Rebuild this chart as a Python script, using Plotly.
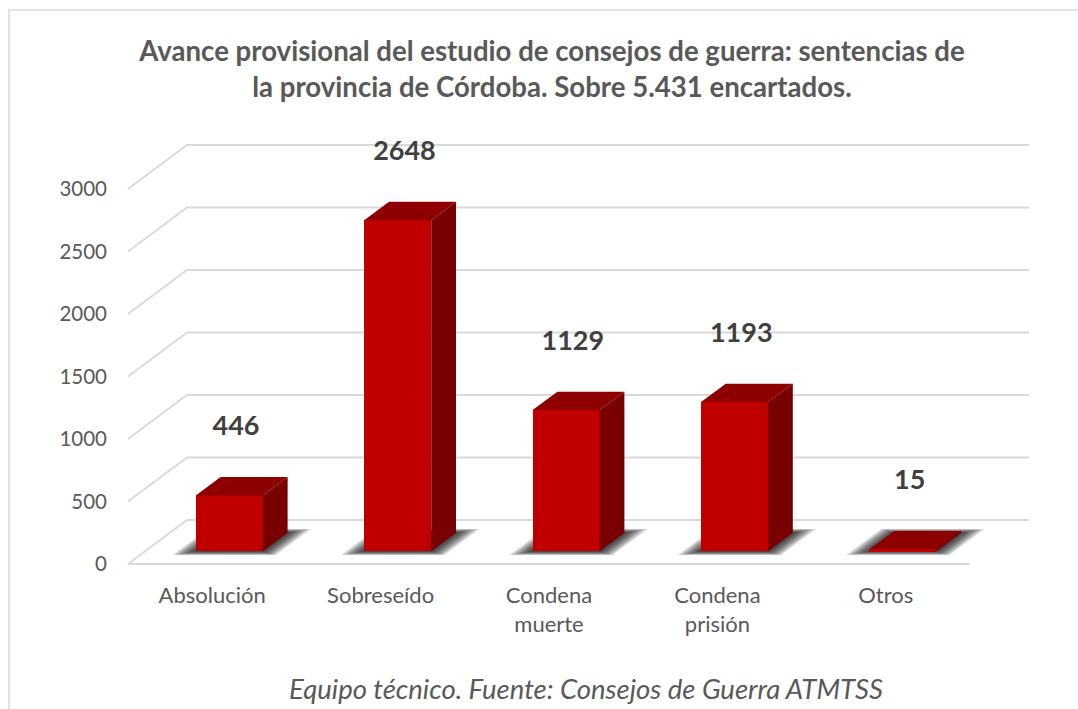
import plotly.graph_objects as go

# ---------------- data ----------------
categories = ["Absolución", "Sobreseído", "Condena<br>muerte", "Condena<br>prisión", "Otros"]
values = [446, 2648, 1129, 1193, 15]
y_ticks = [0, 500, 1000, 1500, 2000, 2500, 3000]
title_text = ("Avance provisional del estudio de consejos de guerra: sentencias de<br>"
              "la provincia de Córdoba. Sobre 5.431 encartados.")
source_text = "Equipo técnico. Fuente: Consejos de Guerra ATMTSS"

# ---------------- geometry (layout constants) ----------------
W, H = 1078, 709
PX_PER_CAT = 168.4     # px per category on the front plane
PX_PER_VAL = 0.125     # px per value unit
X0_PX = 128            # pixel x of front-left edge (x = -0.5)
Y0_PX = 564            # pixel y of value 0 on front plane
DEPTH_DX_PX = 59
DEPTH_DY_PX = 44
DX = DEPTH_DX_PX / PX_PER_CAT
DV = DEPTH_DY_PX / PX_PER_VAL

plot_left, plot_right, plot_top, plot_bottom = 125, 1034, 139, 569
x_range = [-0.5 - (X0_PX - plot_left) / PX_PER_CAT, -0.5 + (plot_right - X0_PX) / PX_PER_CAT]
y_range = [-(plot_bottom - Y0_PX) / PX_PER_VAL, (Y0_PX - plot_top) / PX_PER_VAL]


def xp(px):
    return (px - plot_left) / (plot_right - plot_left)


def yp(py):
    return (plot_bottom - py) / (plot_bottom - plot_top)


def P(x, v, d):
    """project (category x, value v, depth fraction d) onto the chart's 2D axes"""
    return x + d * DX, v + d * DV


D1, D2 = 0.29, 0.71      # bar front/back depth
HW = 0.199               # half bar width (category units)
n = len(categories)
xl, xr = -0.5, n - 0.5

GRID = "#d9d9d9"
FRONT = "#C00000"
TOP = "#8E0000"
SIDE = "#780000"
TXT = "#595959"

fig = go.Figure()

# ---- back wall gridlines + floor ----
gx, gy = [], []
for v in y_ticks:
    for pt in (P(xl, v, 0), P(xl, v, 1), P(xr, v, 1)):
        gx.append(pt[0]); gy.append(pt[1])
    gx.append(None); gy.append(None)
for pt in (P(xl, 0, 0), P(xr, 0, 0)):
    gx.append(pt[0]); gy.append(pt[1])
fig.add_trace(go.Scatter(x=gx, y=gy, mode="lines", line=dict(color=GRID, width=1.8),
                         hoverinfo="skip", showlegend=False, zorder=-3))

# ---- soft floor shadows ----
NL = 8
for i in range(n):
    for k in range(NL, 0, -1):
        ex = 0.0135 * k
        ed = 0.011 * k
        pts = [P(i - HW - ex, 0, D1 - ed), P(i + HW + ex, 0, D1 - ed),
               P(i + HW + ex, 0, D2 + ed), P(i - HW - ex, 0, D2 + ed)]
        fig.add_trace(go.Scatter(x=[p[0] for p in pts] + [pts[0][0]],
                                 y=[p[1] for p in pts] + [pts[0][1]],
                                 mode="lines", fill="toself", line=dict(width=0),
                                 fillcolor="rgba(0,0,0,0.14)", hoverinfo="skip",
                                 showlegend=False, zorder=-2))

# ---- bar front faces ----
fig.add_trace(go.Bar(x=[i + D1 * DX for i in range(n)], y=values, base=D1 * DV,
                     width=2 * HW, marker=dict(color=FRONT, line=dict(width=0)),
                     hovertext=[c.replace("<br>", " ") for c in categories],
                     hoverinfo="text+y", showlegend=False, zorder=0))

# ---- top and side faces ----
for i, v in enumerate(values):
    top = [P(i - HW, v, D1), P(i + HW, v, D1), P(i + HW, v, D2), P(i - HW, v, D2), P(i - HW, v, D1)]
    fig.add_trace(go.Scatter(x=[p[0] for p in top], y=[p[1] for p in top], mode="lines",
                             fill="toself", fillcolor=TOP, line=dict(width=0, color=TOP),
                             hoverinfo="skip", showlegend=False, zorder=1))
    side = [P(i + HW, 0, D1), P(i + HW, v, D1), P(i + HW, v, D2), P(i + HW, 0, D2), P(i + HW, 0, D1)]
    fig.add_trace(go.Scatter(x=[p[0] for p in side], y=[p[1] for p in side], mode="lines",
                             fill="toself", fillcolor=SIDE, line=dict(width=0, color=SIDE),
                             hoverinfo="skip", showlegend=False, zorder=1))

# ---- data labels ----
LABEL_OFF = 67 / PX_PER_VAL
fig.add_trace(go.Scatter(x=[i + D1 * DX + 0.04 for i in range(n)],
                         y=[v + D1 * DV + LABEL_OFF for v in values],
                         mode="text", text=[str(v) for v in values], textposition="middle center",
                         textfont=dict(family="Lato", size=27, color="#404040", weight="bold"),
                         cliponaxis=False, hoverinfo="skip", showlegend=False, zorder=2))

fig.update_layout(
    width=W, height=H,
    margin=dict(l=plot_left, r=W - plot_right, t=plot_top, b=H - plot_bottom, pad=0),
    paper_bgcolor="white", plot_bgcolor="rgba(0,0,0,0)",
    title=dict(text=title_text, x=552 / W, xanchor="center", y=1 - 61 / H, yanchor="top",
               xref="container", yref="container",
               font=dict(family="Lato", size=27.6, color=TXT, weight="bold")),
    xaxis=dict(range=x_range, tickvals=list(range(n)), ticktext=categories,
               showgrid=False, zeroline=False, showline=False, ticks="",
               tickfont=dict(family="Lato", size=22, color=TXT), ticklabelstandoff=11,
               fixedrange=True),
    yaxis=dict(range=y_range, tickvals=y_ticks, showgrid=False, zeroline=False,
               showline=False, ticks="", tickfont=dict(family="Lato", size=20.5, color=TXT),
               ticklabelstandoff=17, fixedrange=True),
    bargap=0, showlegend=False,
    shapes=[dict(type="rect", xref="paper", yref="paper", x0=xp(9), x1=xp(W + 5),
                 y0=yp(H + 5), y1=yp(10), line=dict(color="#d9d9d9", width=1.5),
                 fillcolor="rgba(0,0,0,0)", layer="below")],
    annotations=[dict(text=source_text, xref="paper", yref="paper", x=xp(586), y=yp(688),
                      xanchor="center", yanchor="middle", showarrow=False,
                      font=dict(family="Lato", size=27.5, color=TXT, style="italic"))],
)

fig.write_html("out.html", config={"displayModeBar": False},
               post_script="document.body.style.margin='0';document.body.style.overflow='hidden';")
